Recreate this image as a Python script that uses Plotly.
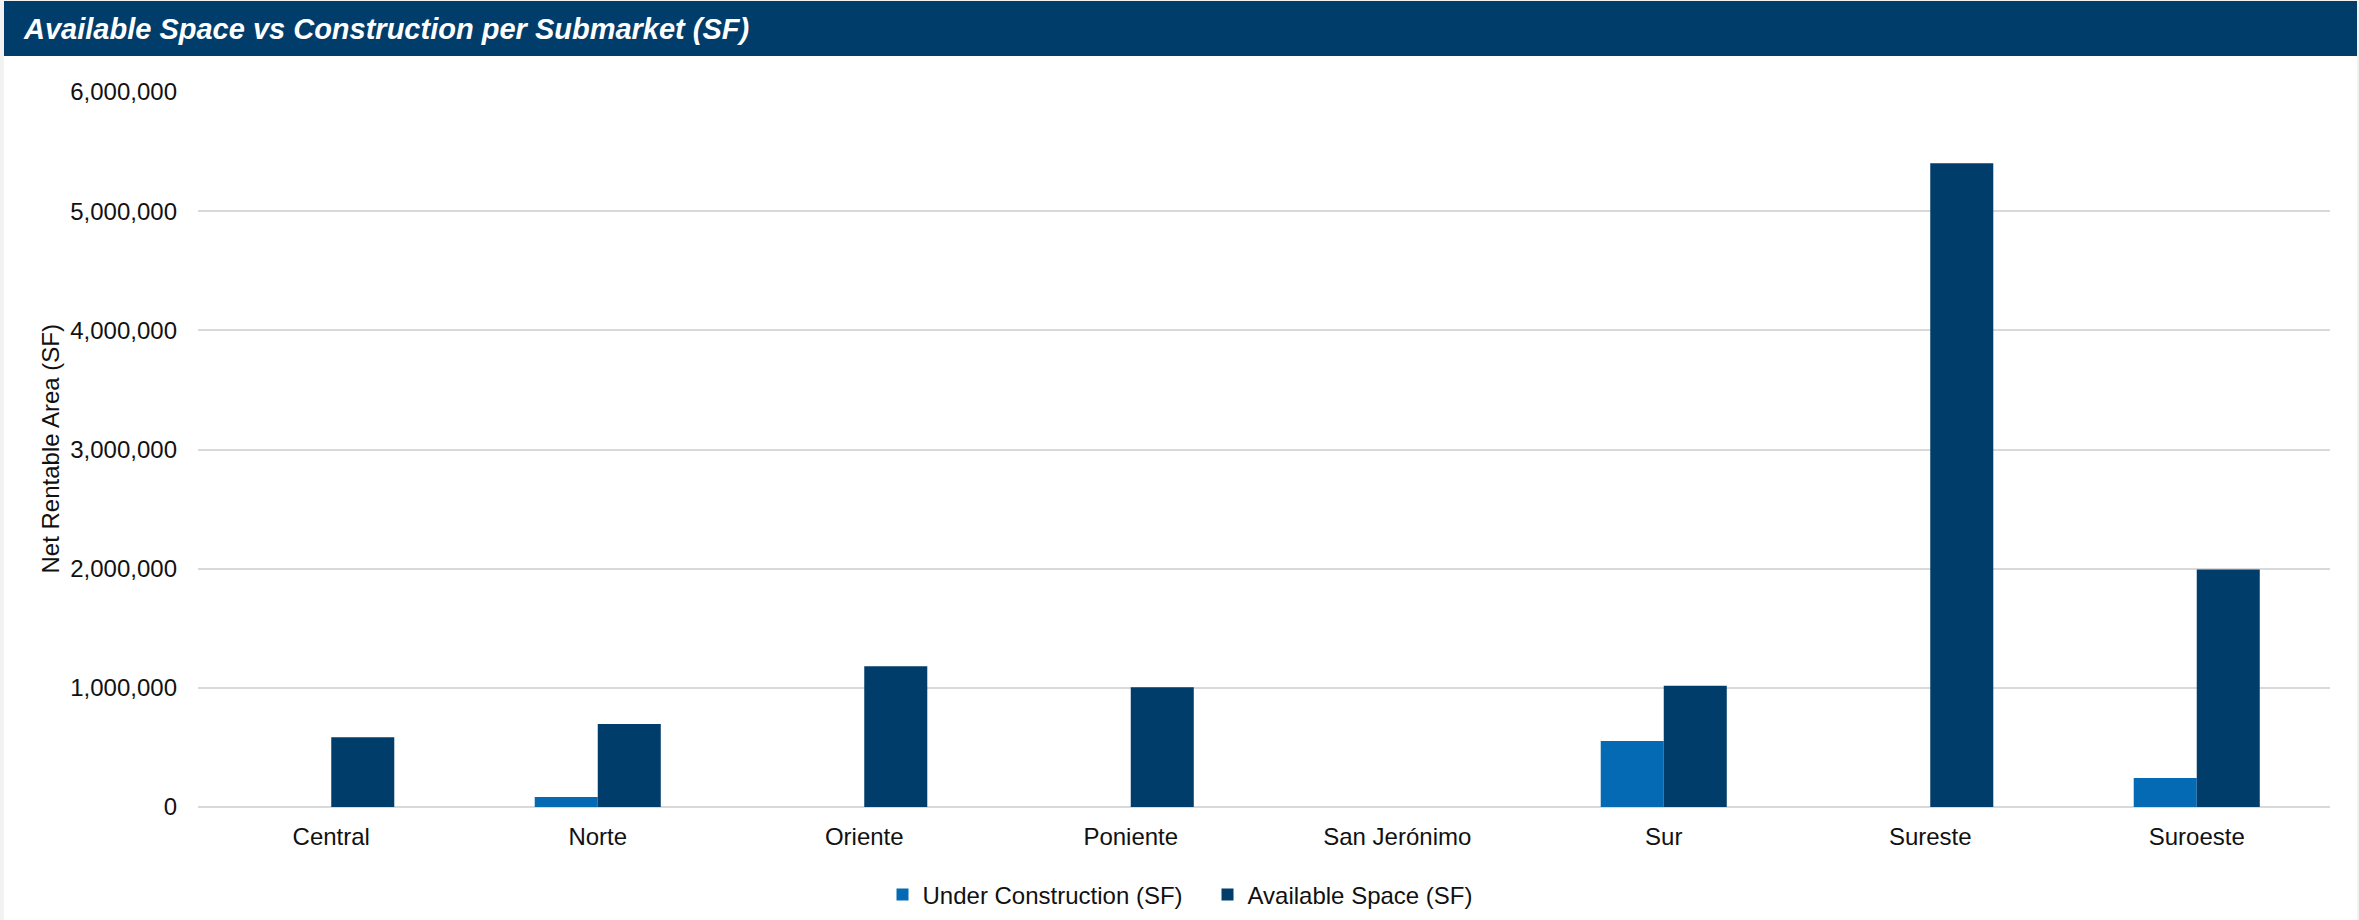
import plotly.graph_objects as go

# Submarket data (net rentable area, square feet)
categories = ["Central", "Norte", "Oriente", "Poniente", "San Jerónimo", "Sur", "Sureste", "Suroeste"]
under_construction = [0, 84000, 0, 0, 0, 553000, 0, 243000]
available_space = [585000, 697000, 1182000, 1004000, 0, 1017000, 5403000, 1992000]
y_ticks = [0, 1000000, 2000000, 3000000, 4000000, 5000000, 6000000]

W, H = 2359, 920
L, R, T, B = 198, 29, 92, 113
PW, PH = W - L - R, H - T - B

def px_x(x):
    return (x - L) / PW

def px_y(y):
    return (H - B - y) / PH

NAVY = "#003D6B"
BLUE = "#056AB4"
FONT = "Liberation Sans, Arial, sans-serif"

fig = go.Figure()
fig.add_trace(go.Bar(name="Under Construction (SF)", x=categories, y=under_construction,
                     marker=dict(color=BLUE, line=dict(width=0))))
fig.add_trace(go.Bar(name="Available Space (SF)", x=categories, y=available_space,
                     marker=dict(color=NAVY, line=dict(width=0))))

# white card on a light grey page, with the navy header band
fig.add_shape(type="rect", xref="paper", yref="paper", layer="below",
              x0=px_x(4), x1=px_x(2357), y0=px_y(H + 5), y1=px_y(1),
              fillcolor="white", line=dict(width=0))
fig.add_shape(type="rect", xref="paper", yref="paper", layer="above",
              x0=px_x(4), x1=px_x(2357), y0=px_y(56), y1=px_y(1),
              fillcolor=NAVY, line=dict(width=0))

fig.add_annotation(text="Available Space vs Construction per Submarket (SF)",
                   xref="paper", yref="paper", x=px_x(21), y=px_y(29),
                   xanchor="left", yanchor="middle", showarrow=False,
                   font=dict(family=FONT, size=29, color="white", weight="bold", style="italic"))

fig.add_annotation(text="Net Rentable Area (SF)", textangle=-90,
                   xref="paper", yref="paper", x=px_x(50), y=0.5,
                   xanchor="center", yanchor="middle", showarrow=False,
                   font=dict(family=FONT, size=24, color="#111111"))

fig.update_layout(
    width=W, height=H,
    margin=dict(l=L, r=R, t=T, b=B, pad=0),
    paper_bgcolor="#F2F2F2",
    plot_bgcolor="rgba(0,0,0,0)",
    barmode="group", bargap=0.527, bargroupgap=0,
    font=dict(family=FONT, size=24, color="#111111"),
    showlegend=True,
    legend=dict(orientation="h", xref="container", yref="container",
                x=0.5 + 28 / W, y=1 - 895 / H, xanchor="center", yanchor="middle",
                entrywidth=280, entrywidthmode="pixels",
                font=dict(size=24), bgcolor="rgba(0,0,0,0)", itemclick=False),
)
fig.update_xaxes(showgrid=False, showline=False, ticks="", ticklabelstandoff=13,
                 tickfont=dict(size=24, color="#111111"))
fig.update_yaxes(range=[0, 6000000], tickvals=y_ticks, tickformat=",",
                 showgrid=True, gridcolor="#D9D9D9", gridwidth=2,
                 zeroline=True, zerolinecolor="#D9D9D9", zerolinewidth=2,
                 showline=False, ticks="", ticklabelstandoff=20,
                 tickfont=dict(size=24, color="#111111"))

fig.write_html("out.html")
